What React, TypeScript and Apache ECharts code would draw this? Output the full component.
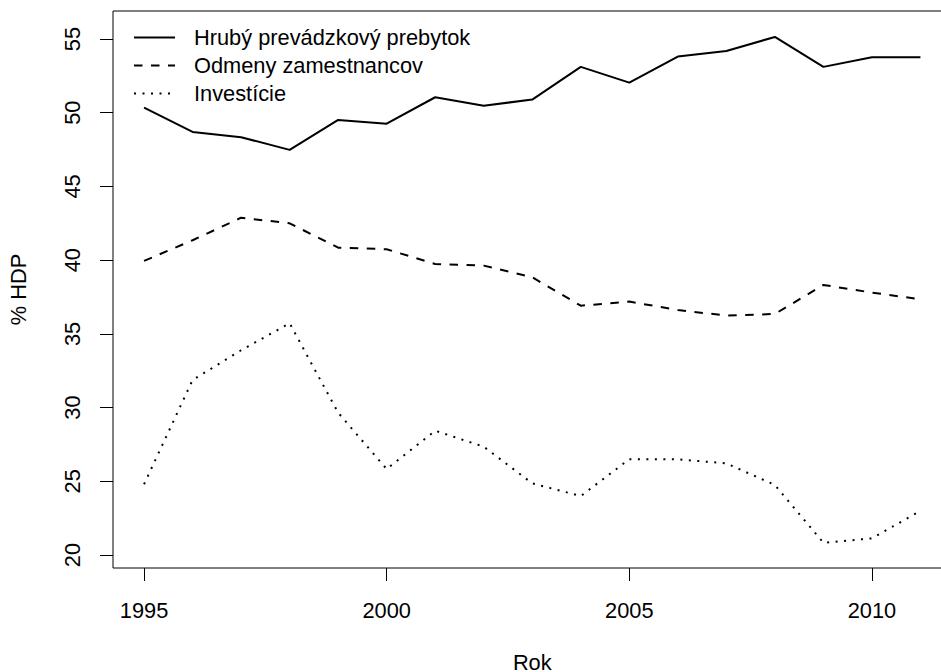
import React, { useEffect, useRef } from "react";
import * as echarts from "echarts";

// Share of GDP (%) by year
const years = [1995, 1996, 1997, 1998, 1999, 2000, 2001, 2002, 2003, 2004, 2005, 2006, 2007, 2008, 2009, 2010, 2011];
const hrubyPrebytok = [50.35, 48.7, 48.34, 47.48, 49.51, 49.26, 51.05, 50.48, 50.89, 53.11, 52.04, 53.81, 54.19, 55.14, 53.11, 53.77, 53.77];
const odmenyZamestnancov = [39.95, 41.35, 42.88, 42.5, 40.85, 40.74, 39.74, 39.63, 38.84, 36.91, 37.19, 36.62, 36.24, 36.35, 38.32, 37.8, 37.35];
const investicie = [24.8, 31.87, 33.89, 35.72, 29.65, 25.83, 28.43, 27.35, 24.86, 24.0, 26.5, 26.49, 26.22, 24.75, 20.83, 21.13, 23.0];

const seriesNames = ["Hrubý prevádzkový prebytok", "Odmeny zamestnancov", "Investície"];
const xTicks = [1995, 2000, 2005, 2010];
const yTicks = [20, 25, 30, 35, 40, 45, 50, 55];

const FONT = "'Liberation Sans', Arial, Helvetica, sans-serif";
const FONT_SIZE = 21.8;

function pairs(values: number[]) {
  return years.map((y, i) => [y, values[i]]);
}

export default function App() {
  const ref = useRef<HTMLDivElement>(null);

  useEffect(() => {
    if (!ref.current) return;
    const chart = echarts.init(ref.current, null, { renderer: "svg" });
    const lineBase = { color: "#000", width: 2, cap: "butt" as const };
    chart.setOption({
      animation: false,
      backgroundColor: "#fff",
      color: ["#000", "#000", "#000"],
      textStyle: { fontFamily: FONT, color: "#000" },
      grid: {
        show: true,
        left: 113,
        right: 8.5,
        top: 11,
        bottom: 104,
        containLabel: false,
        outerBoundsMode: "none",
        borderColor: "#000",
        borderWidth: 1,
        backgroundColor: "transparent",
      },
      legend: {
        orient: "vertical",
        left: 133,
        top: 26.5,
        padding: 0,
        itemWidth: 41,
        itemHeight: 14,
        itemGap: 6,
        data: seriesNames,
        itemStyle: { opacity: 0, color: "transparent", borderWidth: 0 },
        textStyle: {
          fontFamily: FONT,
          fontSize: FONT_SIZE,
          color: "#000",
          padding: [0, 0, 0, 14],
        },
      },
      xAxis: {
        type: "value",
        min: 1994.36,
        max: 2011.64,
        name: "Rok",
        nameLocation: "middle",
        nameGap: 86,
        nameTextStyle: { fontFamily: FONT, fontSize: FONT_SIZE, color: "#000", lineHeight: 16 },
        axisLine: { show: false },
        axisTick: {
          show: true,
          inside: false,
          length: 13,
          customValues: xTicks,
          lineStyle: { color: "#000", width: 1 },
        },
        axisLabel: {
          customValues: xTicks,
          formatter: (v: number) => String(v),
          margin: 31,
          fontFamily: FONT,
          fontSize: FONT_SIZE,
          color: "#000",
        },
        splitLine: { show: false },
      },
      yAxis: {
        type: "value",
        min: 19.12,
        max: 56.9,
        name: "% HDP",
        nameLocation: "middle",
        nameGap: 84,
        nameTextStyle: { fontFamily: FONT, fontSize: FONT_SIZE, color: "#000" },
        axisLine: { show: false },
        axisTick: {
          show: true,
          inside: false,
          length: 13,
          customValues: yTicks,
          lineStyle: { color: "#000", width: 1 },
        },
        axisLabel: {
          customValues: yTicks,
          formatter: (v: number) => String(v),
          rotate: 90,
          margin: 30,
          fontFamily: FONT,
          fontSize: FONT_SIZE,
          color: "#000",
        },
        splitLine: { show: false },
      },
      series: [
        {
          name: seriesNames[0],
          type: "line",
          data: pairs(hrubyPrebytok),
          symbol: "none",
          lineStyle: { ...lineBase, type: "solid" },
        },
        {
          name: seriesNames[1],
          type: "line",
          data: pairs(odmenyZamestnancov),
          symbol: "none",
          lineStyle: { ...lineBase, type: [8.5, 8.5] },
        },
        {
          name: seriesNames[2],
          type: "line",
          data: pairs(investicie),
          symbol: "none",
          lineStyle: { ...lineBase, type: [2, 6.5] },
        },
      ],
    });
    return () => chart.dispose();
  }, []);

  return (
    <div
      style={{
        position: "fixed",
        left: 0,
        top: 0,
        width: 941,
        height: 672,
        overflow: "hidden",
        background: "#fff",
      }}
    >
      <div ref={ref} style={{ width: 960, height: 672 }} />
    </div>
  );
}
